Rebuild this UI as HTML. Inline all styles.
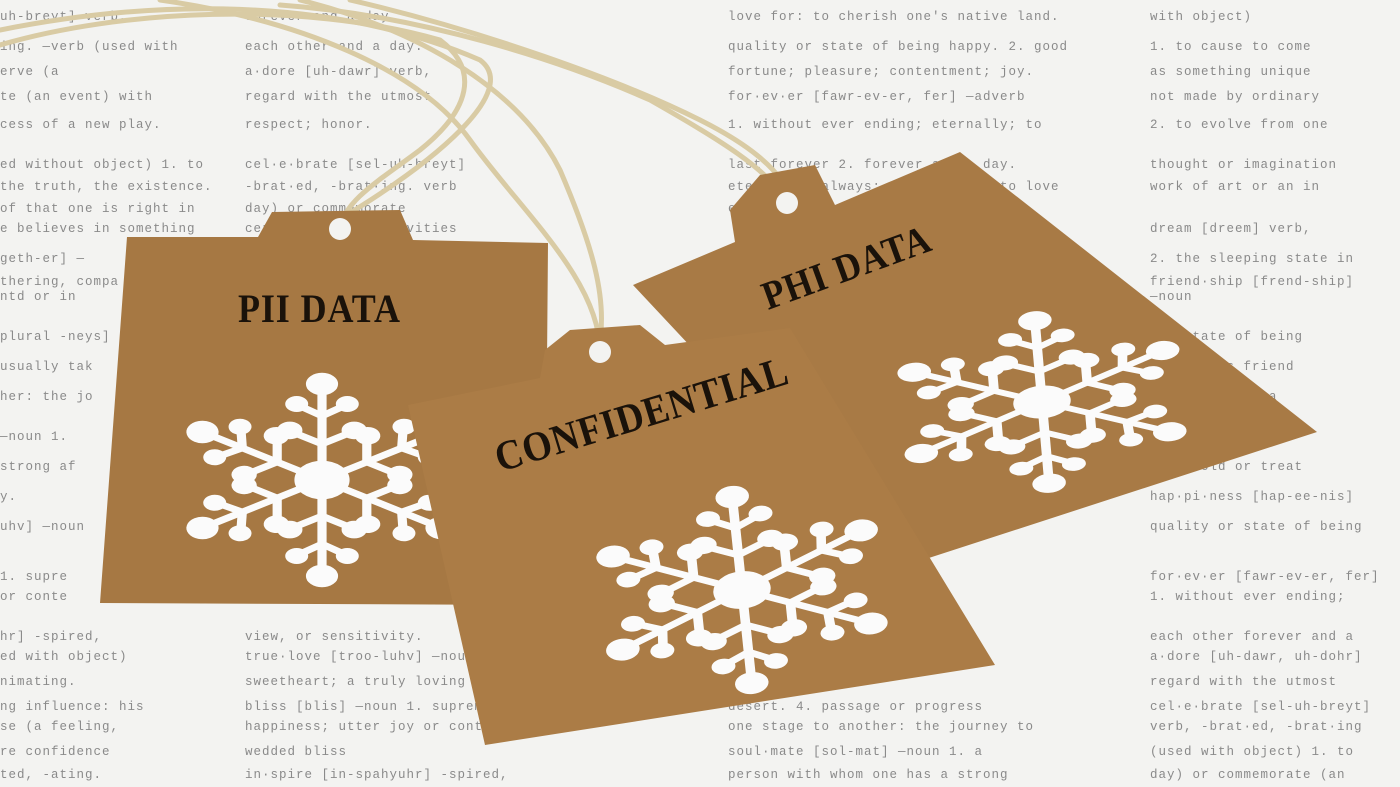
<!DOCTYPE html>
<html><head><meta charset="utf-8"><style>
html,body{margin:0;padding:0;background:#f4f4f2;overflow:hidden}
svg{display:block}
.bg{font-family:"Liberation Mono",monospace;font-size:12.5px;fill:#8a8a8a;letter-spacing:1px}
.lbl{font-family:"Liberation Serif",serif;font-weight:bold;fill:#1a120a;letter-spacing:1px}
</style></head><body>
<svg width="1400" height="787" viewBox="0 0 1400 787">
<defs>
<g id="flake">
 <g stroke="#fbfbfb" stroke-width="8" stroke-linecap="round" fill="#fbfbfb">
  <g id="arm"><line x1="0" y1="0" x2="0" y2="-118"/><line x1="0" y1="-45" x2="-26" y2="-60"/><line x1="0" y1="-45" x2="26" y2="-60"/><line x1="0" y1="-80" x2="-20" y2="-93"/><line x1="0" y1="-80" x2="20" y2="-93"/><circle cx="0" cy="-120" r="10"/><circle cx="-28" cy="-62" r="7"/><circle cx="28" cy="-62" r="7"/><circle cx="-22" cy="-95" r="6"/><circle cx="22" cy="-95" r="6"/></g>
  <use href="#arm" transform="rotate(60)"/><use href="#arm" transform="rotate(120)"/><use href="#arm" transform="rotate(180)"/><use href="#arm" transform="rotate(240)"/><use href="#arm" transform="rotate(300)"/>
  <circle r="20"/>
 </g>
</g>
</defs>
<rect width="1400" height="787" fill="#f3f3f1"/>
<g class="bg">
<g>
<text x="0" y="20">uh-breyt] verb,</text><text x="0" y="50">ing. —verb (used with</text><text x="0" y="75">erve (a</text><text x="0" y="100">te (an event) with</text><text x="0" y="128">cess of a new play.</text><text x="0" y="168">ed without object) 1. to</text><text x="0" y="190">the truth, the existence.</text><text x="0" y="212">of that one is right in</text><text x="0" y="232">e believes in something</text><text x="0" y="262">geth-er] —</text><text x="0" y="285">thering, compa</text><text x="0" y="300">ntd or in</text><text x="0" y="340">plural -neys]</text><text x="0" y="370">usually tak</text><text x="0" y="400">her: the jo</text><text x="0" y="440">—noun 1.</text><text x="0" y="470">strong af</text><text x="0" y="500">y.</text><text x="0" y="530">uhv] —noun</text><text x="0" y="580">1. supre</text><text x="0" y="600">or conte</text><text x="0" y="640">hr] -spired,</text><text x="0" y="660">ed with object)</text><text x="0" y="685">nimating.</text><text x="0" y="710">ng influence: his</text><text x="0" y="730">se (a feeling,</text><text x="0" y="755">re confidence</text><text x="0" y="778">ted, -ating.</text>
</g>
<g>
<text x="245" y="20">forever and a day.</text><text x="245" y="50">each other and a day.</text><text x="245" y="75">a·dore [uh-dawr] verb,</text><text x="245" y="100">regard with the utmost</text><text x="245" y="128">respect; honor.</text><text x="245" y="168">cel·e·brate [sel-uh-breyt]</text><text x="245" y="190">-brat·ed, -brat·ing. verb</text><text x="245" y="212">day) or commemorate</text><text x="245" y="232">ceremonies or festivities</text><text x="245" y="640">view, or sensitivity.</text><text x="245" y="660">true·love [troo-luhv] —noun</text><text x="245" y="685">sweetheart; a truly loving</text><text x="245" y="710">bliss [blis] —noun 1. supreme</text><text x="245" y="730">happiness; utter joy or content</text><text x="245" y="755">wedded bliss</text><text x="245" y="778">in·spire [in-spahyuhr] -spired,</text>
</g>
<g>
<text x="728" y="20">love for: to cherish one's native land.</text><text x="728" y="50">quality or state of being happy. 2. good</text><text x="728" y="75">fortune; pleasure; contentment; joy.</text><text x="728" y="100">for·ev·er [fawr-ev-er, fer] —adverb</text><text x="728" y="128">1. without ever ending; eternally; to</text><text x="728" y="168">last forever 2. forever and a day.</text><text x="728" y="190">eternally; always: They pledged to love</text><text x="728" y="212">each other forever and a day.</text><text x="728" y="710">desert. 4. passage or progress</text><text x="728" y="730">one stage to another: the journey to</text><text x="728" y="755">soul·mate [sol-mat] —noun 1. a</text><text x="728" y="778">person with whom one has a strong</text>
</g>
<g>
<text x="1150" y="20">with object)</text><text x="1150" y="50">1. to cause to come</text><text x="1150" y="75">as something unique</text><text x="1150" y="100">not made by ordinary</text><text x="1150" y="128">2. to evolve from one</text><text x="1150" y="168">thought or imagination</text><text x="1150" y="190">work of art or an in</text><text x="1150" y="232">dream [dreem] verb,</text><text x="1150" y="262">2. the sleeping state in</text><text x="1150" y="285">friend·ship [frend-ship]</text><text x="1150" y="300">—noun</text><text x="1150" y="340">the state of being</text><text x="1150" y="370">a person's friend</text><text x="1150" y="400">uhv] verb, 1. a</text><text x="1150" y="440">ionate a</text><text x="1150" y="470">d to hold or treat</text><text x="1150" y="500">hap·pi·ness [hap-ee-nis]</text><text x="1150" y="530">quality or state of being</text><text x="1150" y="580">for·ev·er [fawr-ev-er, fer]</text><text x="1150" y="600">1. without ever ending;</text><text x="1150" y="640">each other forever and a</text><text x="1150" y="660">a·dore [uh-dawr, uh-dohr]</text><text x="1150" y="685">regard with the utmost</text><text x="1150" y="710">cel·e·brate [sel-uh-breyt]</text><text x="1150" y="730">verb, -brat·ed, -brat·ing</text><text x="1150" y="755">(used with object) 1. to</text><text x="1150" y="778">day) or commemorate (an</text>
</g>
</g>
<g fill="none" stroke="#d9cba4" stroke-width="5" stroke-linecap="round">
<path d="M0,45 C120,10 300,0 440,40 C480,70 470,110 420,150 C380,180 345,200 340,228"/>
<path d="M0,30 C150,0 330,-5 480,60 C520,90 440,160 330,225"/>
<path d="M160,0 C300,20 420,70 470,140 C520,210 600,280 600,352"/>
<path d="M300,0 C420,30 520,90 560,170 C590,240 610,300 598,350"/>
<path d="M280,5 C420,15 560,60 650,100 C720,140 770,170 787,203"/>
<path d="M350,0 C480,30 620,80 700,120 C760,150 790,180 790,205"/>
</g>
<g>
<polygon points="127,237 258,237 272,212 400,210 413,240 548,243 545,605 100,603" fill="#a67843"/>
<circle cx="340" cy="229" r="11" fill="#f3f3f1"/>
<use href="#flake" transform="translate(322,480) scale(1.15,0.8)"/>
<text class="lbl" x="238" y="322" font-size="40" transform="translate(238 322) scale(0.9 1) translate(-238 -322)">PII DATA</text>
</g>
<g>
<polygon points="633,285 735,242 730,210 760,175 815,165 835,205 960,152 1317,432 898,568" fill="#a87a45"/>
<circle cx="787" cy="203" r="11" fill="#f3f3f1"/>
<use href="#flake" transform="translate(1042,402) rotate(-5) scale(1.2,0.68)"/>
<text class="lbl" x="768" y="310" font-size="40" transform="rotate(-20 768 310) translate(768 310) scale(0.9 1) translate(-768 -310)">PHI DATA</text>
</g>
<g>
<polygon points="408,405 540,378 545,350 570,330 640,325 665,345 790,328 995,665 485,745" fill="#ab7c46"/>
<circle cx="600" cy="352" r="11" fill="#f3f3f1"/>
<use href="#flake" transform="translate(742,590) rotate(-6) scale(1.2,0.78)"/>
<text class="lbl" x="500" y="472" font-size="42" transform="rotate(-17 500 472) translate(500 472) scale(0.9 1) translate(-500 -472)">CONFIDENTIAL</text>
</g>
</svg>
</body></html>
